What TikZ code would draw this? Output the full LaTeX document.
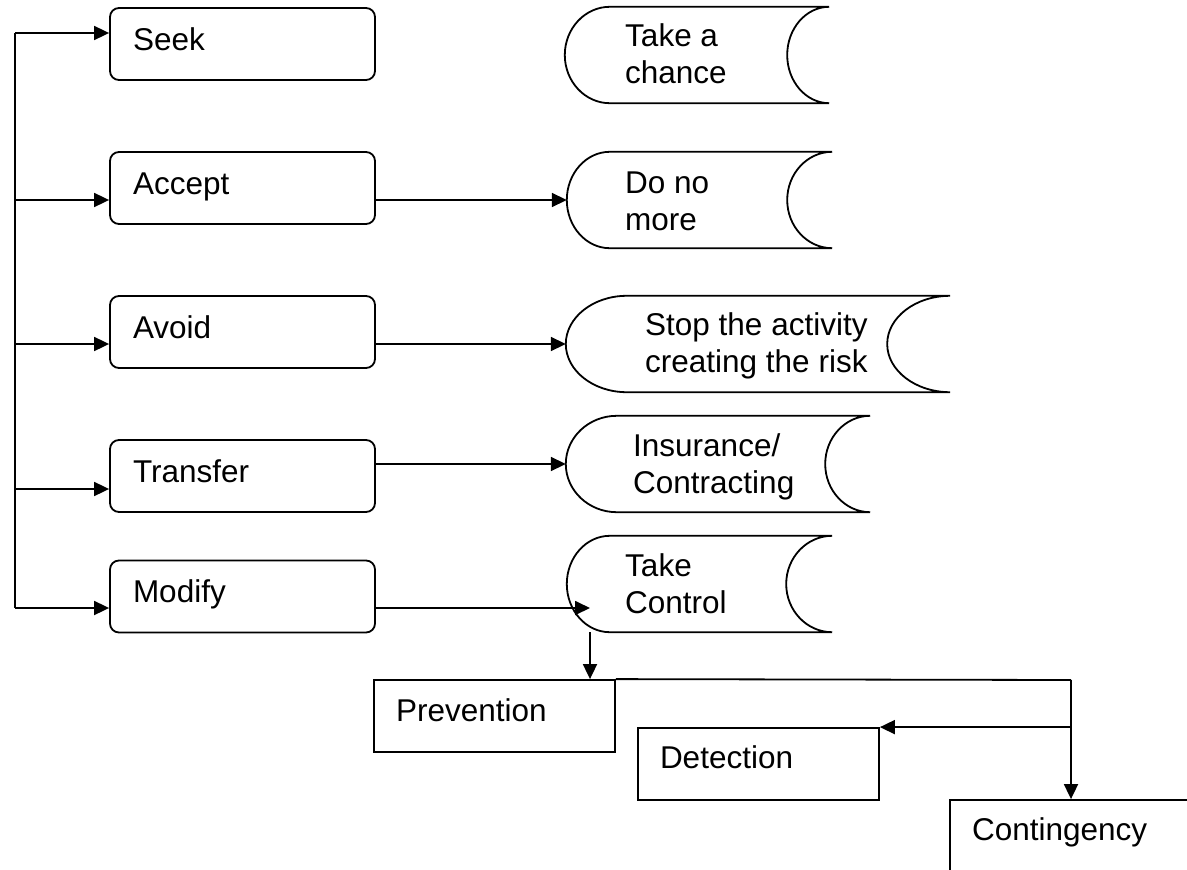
\documentclass[tikz,border=0pt]{standalone}
\usepackage{fontspec}
\setmainfont{Liberation Sans}
\usetikzlibrary{calc,arrows.meta}
\newcommand{\sdshape}[3]{% name, left bulge, right concave depth
  \draw[ln] ($(#1.north west)+(#2,0)$) -- (#1.north east)
    .. controls ($(#1.north east)+(-0.552*#3,0)$) and ($(#1.east)+(-#3,-26.5)$) .. ($(#1.east)+(-#3,0)$)
    .. controls ($(#1.east)+(-#3,26.5)$) and ($(#1.south east)+(-0.552*#3,0)$) .. (#1.south east)
    -- ($(#1.south west)+(#2,0)$)
    .. controls ($(#1.south west)+(0.448*#2,0)$) and ($(#1.west)+(0,26.5)$) .. (#1.west)
    .. controls ($(#1.west)+(0,-26.5)$) and ($(#1.north west)+(0.448*#2,0)$) .. cycle;}
\begin{document}
\begin{tikzpicture}[x=1pt,y=-1pt,
  ln/.style={line width=1.8pt,line join=miter},
  arr/.style={ln,-{Triangle[length=15pt,width=14pt]}},
  txt/.style={font=\fontsize{31.5}{36.5}\selectfont},
  lbox/.style={draw,line width=1.8pt,rounded corners=9pt,minimum width=265pt,minimum height=72pt,
    text width=219pt,inner xsep=23pt,inner ysep=0pt,align=left,text height=22pt,text depth=10pt,txt},
  bbox/.style={draw,line width=1.8pt,minimum width=241pt,minimum height=72pt,
    text width=197pt,inner xsep=22pt,inner ysep=0pt,align=left,text height=22pt,text depth=12pt,txt},
  sd/.style={minimum height=96pt,inner sep=0pt},
  sdtext/.style={txt,anchor=base west,inner sep=0pt,align=left}]
\useasboundingbox (0,0) rectangle (1187,870);
\clip (0,0) rectangle (1187,870);

% left boxes
\node[lbox] (seek) at (242.5,44) {Seek};
\node[lbox] (acc) at (242.5,188) {Accept};
\node[lbox] (av) at (242.5,332) {Avoid};
\node[lbox] (tr) at (242.5,476) {Transfer};
\node[lbox] (mod) at (242.5,596.5) {Modify};

% stored-data shapes
\node[sd,minimum width=264pt] (tc) at (697,55) {};
\node[sd,minimum width=265pt] (dn) at (699.5,200) {};
\node[sd,minimum width=384pt] (st) at (758,344) {};
\node[sd,minimum width=304pt] (ins) at (718,464) {};
\node[sd,minimum width=265pt] (ctl) at (699.5,584) {};
\sdshape{tc}{45}{42}
\sdshape{dn}{43}{45}
\sdshape{st}{61}{63}
\sdshape{ins}{51}{45}
\sdshape{ctl}{43}{46}

\node[sdtext] (tct) at (625,83) {Take a\\chance};
\node[sdtext] (dnt) at (625,230) {Do no\\more};
\node[sdtext] (stt) at (645,372) {Stop the activity\\creating the risk};
\node[sdtext] (inst) at (633,493) {Insurance/\\Contracting};
\node[sdtext] (ctlt) at (625,613) {Take\\Control};

% bottom boxes
\node[bbox] (prev) at (494.5,716) {Prevention};
\node[bbox,text depth=13pt] (det) at (758.5,764) {Detection};
\node[bbox,text depth=13pt] (cont) at (1070.5,836) {Contingency};

% trunk connectors
\coordinate (t1) at (15,33);
\coordinate (t5) at (15,608);
\coordinate (a2) at ([yshift=-12pt]acc.west);
\coordinate (a3) at ([yshift=-12pt]av.west);
\coordinate (a4) at ([yshift=-13pt]tr.west);
\draw[ln] (t1) -- (t5);
\draw[arr] (t1) -- ([yshift=11pt]seek.west);
\draw[arr] (a2 -| t1) -- (a2);
\draw[arr] (a3 -| t1) -- (a3);
\draw[arr] (a4 -| t1) -- (a4);
\draw[arr] (t5) -- ([yshift=-11.5pt]mod.west);

% right connectors
\draw[arr] (dn.west -| acc.east) -- (dn.west);
\draw[arr] (st.west -| av.east) -- (st.west);
\draw[arr] (ins.west -| tr.east) -- (ins.west);
\coordinate (ctlin) at (590,608);
\draw[arr] (mod.east |- ctlin) -- (ctlin);
\draw[arr] (ctlin |- ctl.south) -- (ctlin |- prev.north);

% bottom connectors
\coordinate (j1) at (1071,680);
\draw[ln] (prev.north east) -- (j1);
\draw[arr] (j1) -- (j1 |- cont.north);
\draw[arr] (j1 |- det.north east) -- (det.north east);
\end{tikzpicture}
\end{document}
